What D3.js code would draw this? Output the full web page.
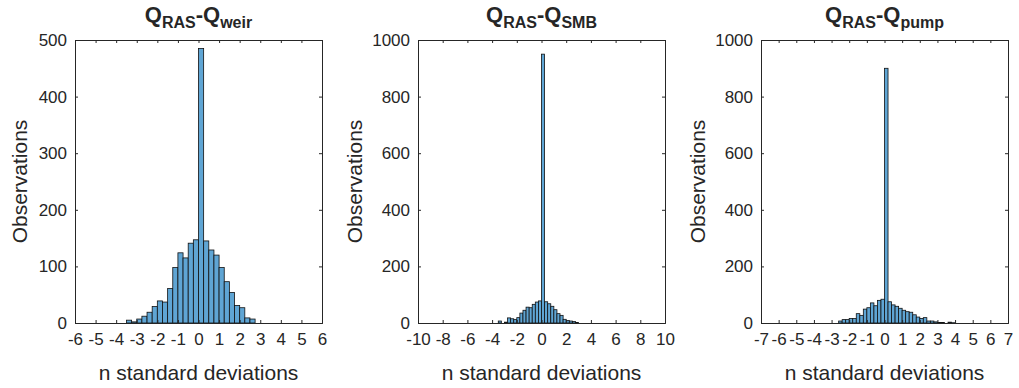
<!DOCTYPE html>
<html>
<head>
<meta charset="utf-8">
<script src="https://cdn.jsdelivr.net/npm/d3@7/dist/d3.min.js"></script>
<style>
  html, body { margin: 0; padding: 0; background: #fff; }
  svg { display: block; }
  text { font-family: "Liberation Sans", Arial, Helvetica, sans-serif; fill: #262626; }
</style>
</head>
<body>
<svg id="chart" width="1019" height="388"></svg>
<script>
// ---- data ----
const titleSubs = ["weir", "SMB", "pump"];
const xDomains = [[-6, 6], [-10, 10], [-7, 7]];
const xTicks1 = [-6, -5, -4, -3, -2, -1, 0, 1, 2, 3, 4, 5, 6];
const xTicks2 = [-10, -8, -6, -4, -2, 0, 2, 4, 6, 8, 10];
const xTicks3 = [-7, -6, -5, -4, -3, -2, -1, 0, 1, 2, 3, 4, 5, 6, 7];
const yTicks1 = [0, 100, 200, 300, 400, 500];
const yTicks2 = [0, 200, 400, 600, 800, 1000];
const yTicks3 = [0, 200, 400, 600, 800, 1000];
const binStarts = [-3.5, -3.5, -2.6];
const binWidths = [0.25, 0.25, 0.2];
const counts1 = [5, 2, 7, 12, 19, 29, 39, 37, 61, 98, 124, 115, 141, 147, 485, 145, 129, 120, 98, 73, 54, 31, 27, 9, 7];
const counts2 = [7, 0, 3, 18, 15, 12, 19, 35, 45, 56, 54, 66, 74, 78, 950, 75, 68, 59, 47, 33, 27, 13, 9, 7, 5, 2];
const counts3 = [7, 12, 12, 16, 16, 33, 27, 49, 54, 71, 61, 80, 84, 900, 75, 64, 59, 52, 45, 40, 38, 29, 21, 16, 19, 7, 7, 4, 2, 2, 0, 3, 1];
const xLabel = "n standard deviations";
const yLabel = "Observations";

// ---- layout ----
const panels = [
  { left: 75,  xTicks: xTicks1, yTicks: yTicks1, counts: counts1 },
  { left: 418, xTicks: xTicks2, yTicks: yTicks2, counts: counts2 },
  { left: 761, xTicks: xTicks3, yTicks: yTicks3, counts: counts3 }
];
const W = 247, plotTop = 40, plotBottom = 323;
const axisColor = "#262626";
const tickLen = 3;
const svg = d3.select("#chart");

panels.forEach((p, i) => {
  const g = svg.append("g");
  const x = d3.scaleLinear().domain(xDomains[i]).range([p.left, p.left + W]);
  const y = d3.scaleLinear().domain([0, d3.max(p.yTicks)]).range([plotBottom, plotTop]);

  const bins = p.counts.map((c, k) => ({
    x0: binStarts[i] + k * binWidths[i],
    x1: binStarts[i] + (k + 1) * binWidths[i],
    c
  })).filter(b => b.c > 0);

  g.selectAll("rect.bar").data(bins).enter().append("rect")
    .attr("class", "bar")
    .attr("x", b => x(b.x0))
    .attr("width", b => x(b.x1) - x(b.x0))
    .attr("y", b => y(b.c))
    .attr("height", b => y(0) - y(b.c))
    .attr("fill", "rgb(95,165,212)")
    .attr("stroke", "#111")
    .attr("stroke-width", 0.8);

  // bottom axis
  const xb = d3.axisBottom(x).tickValues(p.xTicks).tickSize(-tickLen).tickPadding(8)
    .tickFormat(d => d < 0 ? "-" + Math.abs(d) : String(d));
  const gx = g.append("g").attr("transform", `translate(0,${plotBottom})`).call(xb);
  gx.selectAll("text").style("font-size", "17px").attr("dy", "0.85em");
  // top axis
  const gxt = g.append("g").attr("transform", `translate(0,${plotTop})`)
    .call(d3.axisTop(x).tickValues(p.xTicks).tickSize(-tickLen).tickFormat(""));
  // left axis
  const gy = g.append("g").attr("transform", `translate(${p.left},0)`)
    .call(d3.axisLeft(y).tickValues(p.yTicks).tickSize(-tickLen).tickPadding(8).tickFormat(d3.format("d")));
  gy.selectAll("text").style("font-size", "17px");
  // right axis
  const gyr = g.append("g").attr("transform", `translate(${p.left + W},0)`)
    .call(d3.axisRight(y).tickValues(p.yTicks).tickSize(-tickLen).tickFormat(""));

  [gx, gxt, gy, gyr].forEach(a => {
    a.selectAll("path.domain").attr("stroke", axisColor).attr("stroke-width", 1);
    a.selectAll(".tick line").attr("stroke", axisColor).attr("stroke-width", 1);
    a.selectAll("text").attr("fill", axisColor).style("font-family", '"Liberation Sans", Arial, sans-serif');
  });

  // x label
  g.append("text")
    .attr("x", p.left + W / 2).attr("y", 380)
    .attr("text-anchor", "middle")
    .style("font-size", "21px")
    .text(xLabel);

  // y label
  const yoff = i === 0 ? 48 : 56;
  g.append("text")
    .attr("transform", `translate(${p.left - yoff},${(plotTop + plotBottom) / 2}) rotate(-90)`)
    .attr("text-anchor", "middle")
    .style("font-size", "21px")
    .text(yLabel);

  // title
  const t = g.append("text")
    .attr("x", p.left + W / 2).attr("y", 22)
    .attr("text-anchor", "middle")
    .style("font-weight", "bold")
    .style("font-size", "22px");
  t.append("tspan").text("Q");
  t.append("tspan").attr("dy", 6).style("font-size", "16px").text("RAS");
  t.append("tspan").attr("dy", -6).text("-Q");
  t.append("tspan").attr("dy", 6).style("font-size", "16px").text(titleSubs[i]);
});
</script>
</body>
</html>
